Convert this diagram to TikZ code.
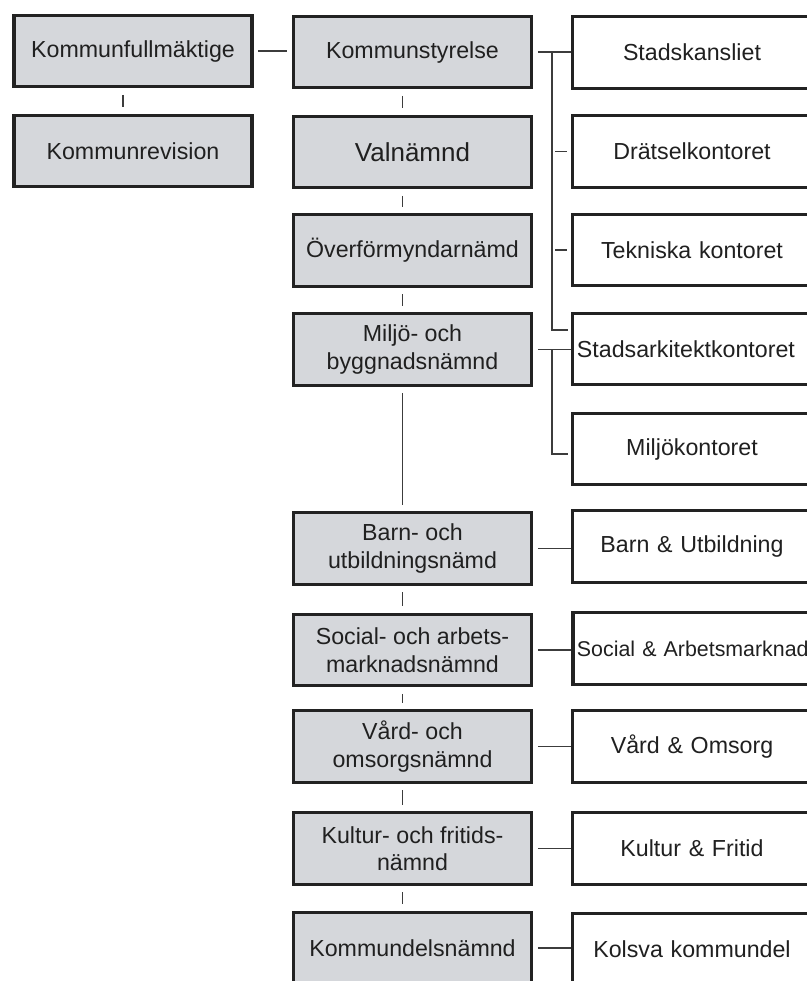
\documentclass[tikz,border=0pt]{standalone}
\usepackage{fontspec}
\setmainfont{Liberation Sans}
\usetikzlibrary{calc}

\definecolor{panel}{RGB}{213,215,219}
\definecolor{edge}{RGB}{34,34,34}
\definecolor{ink}{RGB}{32,32,32}
\definecolor{wire}{RGB}{60,60,60}

\begin{document}
\begin{tikzpicture}[x=0.025cm, y=-0.025cm, text=ink,
	box/.style={draw=edge, line width=2.2pt, minimum width=5.95cm, minimum height=1.78cm, inner sep=0.12cm, align=center, font=\fontsize{16.5}{19.5}\selectfont},
	board/.style={box, fill=panel},
	office/.style={box, fill=white, text width=5.75cm},
	link/.style={draw=wire, line width=1.1pt},
	tick/.style={link, shorten <=0.17cm, shorten >=0.17cm}]
	\def \leftx {133}
\def \midx {412.5}
\def \rightx {692}

\useasboundingbox (0,0) rectangle (807,981);
\clip (0,0) rectangle (807,981);

%Council and audit
\node[board] (kf) at (\leftx,51) {Kommunfullmäktige};
\node[board] (krev) at (\leftx,151) {Kommunrevision};

%Boards
\node[board] (ks) at (\midx,52) {Kommunstyrelse};
\node[board, font=\fontsize{18.5}{22}\selectfont] (val) at (\midx,152) {Valnämnd};
\node[board] (ofn) at (\midx,250.5) {Överförmyndarnämd};
\node[board] (mbn) at (\midx,349.5) {Miljö- och\\byggnadsnämnd};
\node[board] (bun) at (\midx,548.5) {Barn- och\\utbildningsnämd};
\node[board] (san) at (\midx,650) {Social- och arbets-\\marknadsnämnd};
\node[board] (von) at (\midx,746.5) {Vård- och\\omsorgsnämnd};
\node[board] (kfn) at (\midx,848.5) {Kultur- och fritids-\\nämnd};
\node[board] (kdn) at (\midx,948) {Kommundelsnämnd};

%Offices
\node[office] (skan) at (\rightx,52.5) {Stadskansliet};
\node[office] (drat) at (\rightx,151.5) {Drätselkontoret};
\node[office] (tek) at (\rightx,250) {Tekniska kontoret};
\node[office, align=left] (sark) at (\rightx,349) {\mbox{Stadsarkitektkontoret}};
\node[office] (mkon) at (\rightx,449) {Miljökontoret};
\node[office] (bu) at (\rightx,546.5) {Barn \& Utbildning};
\node[office, align=left, inner xsep=0.07cm, font=\fontsize{15.2}{18}\selectfont] (sa) at (\rightx,648.5) {\mbox{Social \& Arbetsmarknad}};
\node[office] (vo) at (\rightx,746.5) {Vård \& Omsorg};
\node[office] (kfr) at (\rightx,848.5) {Kultur \& Fritid};
\node[office] (kk) at (\rightx,949) {Kolsva kommundel};

%Ticks between stacked boxes
\draw[tick] ([xshift=-0.25cm]kf.south) -- ([xshift=-0.25cm]kf.south |- krev.north);
\foreach \a/\b in {ks/val,val/ofn,ofn/mbn,mbn/bun,bun/san,san/von,von/kfn,kfn/kdn}
\draw[tick] ([xshift=-0.25cm]\a.south) -- ([xshift=-0.25cm]\b.north);

%Council to executive board
\draw[link, shorten <=0.12cm, shorten >=0.12cm] (kf.east) -- (kf.east -| ks.west);

%Executive board and its offices
\coordinate (ksbus) at ($(ks.east)!0.5!(skan.west)$);
\draw[link, shorten <=0.12cm] (ks.east) -- (ks.east -| skan.west);
\draw[link, shorten >=0.07cm] (ksbus) |- ([yshift=0.475cm]sark.west);
\foreach \n in {drat,tek}
\draw[link, shorten <=0.08cm, shorten >=0.1cm] (ksbus |- \n.west) -- (\n.west);

%Environment board and its offices
\coordinate (mbus) at ($(mbn.east)!0.5!(sark.west)$);
\draw[link, shorten <=0.12cm] (mbn.east) -- (mbn.east -| sark.west);
\draw[link, shorten >=0.07cm] (mbus) |- ([yshift=-0.125cm]mkon.west);

%Boards to their offices
\foreach \a/\b in {bun/bu,san/sa,von/vo,kfn/kfr,kdn/kk}
\draw[link, shorten <=0.12cm] (\a.east) -- (\a.east -| \b.west);

	\end{tikzpicture}
\end{document}
